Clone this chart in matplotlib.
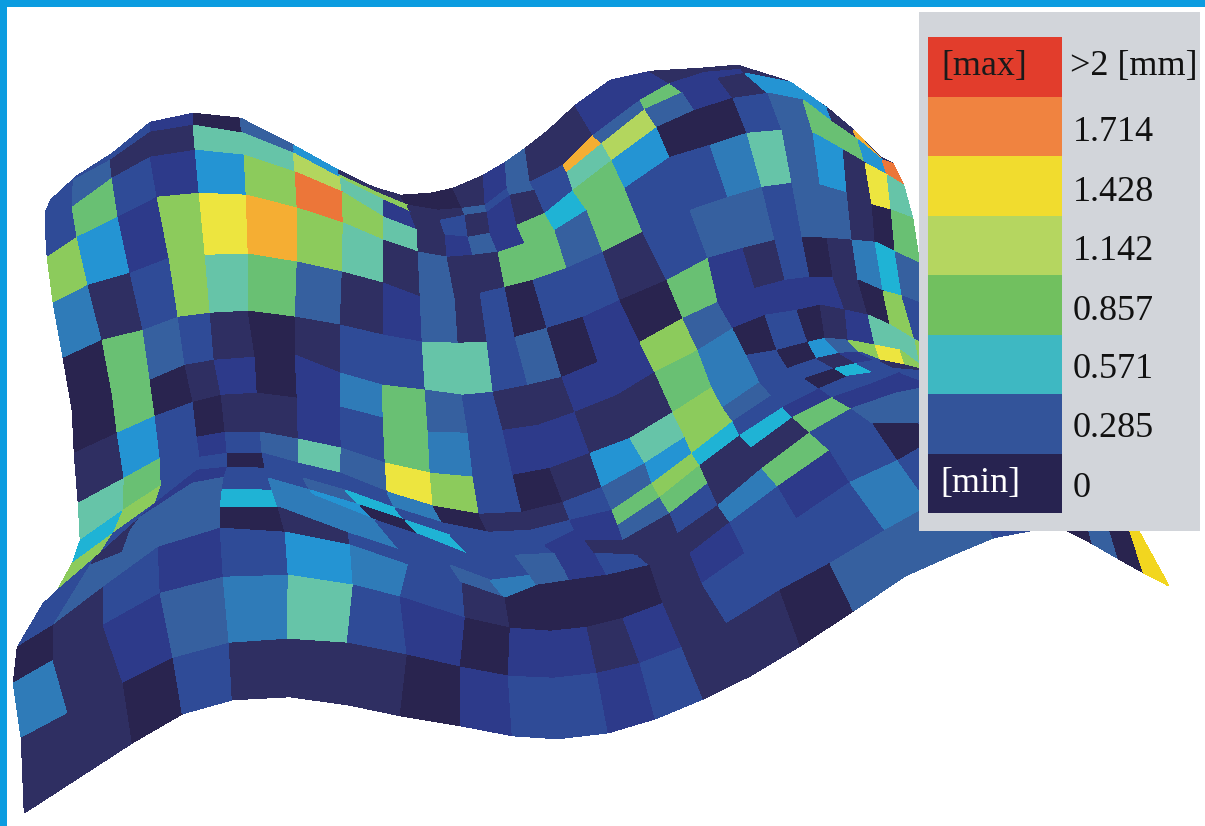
import matplotlib
matplotlib.use("Agg")
import matplotlib.pyplot as plt
from matplotlib.colors import ListedColormap, BoundaryNorm
from matplotlib.patches import Rectangle
import numpy as np

# Mesh nodes (x, y in image pixels), one list per mesh column,
# going from the front edge (first pair) over the fold up to the top edge (last pair)
col_00 = [(24,812),(21,738),(13,683),(17,647),(43,603),(50,597),(57,590),(72,563),(80,540),(78,503),(74,453),(72,410),(63,358),(53,303),(47,257),(45,228),(45,212),(46,210),(50,200)]
col_01 = [(78,777),(68,713),(53,660),(53,625),(90,565),(95,557),(100,553),(113,533),(123,510),(124,478),(117,433),(112,393),(102,340),(88,285),(77,237),(72,207),(73,180),(74,179),(76,176)]
col_02 = [(132,742),(123,683),(103,625),(103,587),(122,552),(130,530),(140,517),(155,503),(161,485),(160,458),(155,416),(150,380),(143,330),(130,273),(118,217),(112,178),(110,160),(110,157),(112,153)]
col_03 = [(182,713),(173,658),(160,593),(158,547),(172,512),(183,497),(192,483),(197,470),(200,457),(197,437),(193,402),(185,365),(178,317),(169,258),(157,197),(150,157),(150,132),(150,127),(150,122)]
col_04 = [(232,699),(229,643),(223,577),(220,528),(220,507),(222,489),(224,477),(227,467),(227,453),(225,432),(221,395),(214,360),(210,313),(205,255),(199,193),(195,150),(193,125),(193,120),(193,113)]
col_05 = [(289,696),(287,639),(288,575),(285,532),(278,507),(272,490),(268,478),(265,468),(262,453),(260,432),(257,393),(255,357),(248,311),(248,254),(246,195),(244,155),(243,133),(241,128),(240,118)]
col_06 = [(347,704),(347,643),(353,585),(350,545),(348,533),(318,497),(310,490),(303,478),(298,463),(298,439),(297,398),(295,355),(295,317),(297,262),(297,208),(295,172),(293,153),(293,150),(293,145)]
col_07 = [(400,715),(407,655),(400,597),(408,565),(400,550),(375,520),(360,505),(345,490),(340,473),(341,448),(340,407),(340,373),(340,325),(342,272),(343,223),(342,192),(340,178),(339,175),(338,170)]
col_08 = [(460,725),(460,667),(465,618),(462,583),(450,565),(420,535),(405,520),(395,508),(387,492),(385,463),(383,418),(382,385),(383,335),(383,283),(383,240),(383,217),(383,200),(378,193),(373,187)]
col_09 = [(512,735),(508,676),(510,628),(505,598),(490,580),(470,555),(450,535),(443,523),(433,506),(430,473),(428,432),(425,390),(422,342),(420,297),(418,252),(417,230),(410,212),(407,205),(400,195)]
col_10 = [(557,738),(553,678),(550,631),(537,585),(530,575),(515,555),(500,545),(488,532),(479,514),(473,477),(468,433),(462,395),(458,343),(455,298),(447,257),(445,235),(440,220),(437,210),(430,193)]
col_11 = [(608,732),(597,673),(587,627),(570,580),(565,570),(555,553),(545,545),(530,530),(522,512),(513,475),(503,430),(493,392),(487,342),(480,293),(473,255),(468,237),(465,215),(462,208),(453,188)]
col_12 = [(655,718),(640,663),(623,618),(607,575),(595,553),(585,540),(575,530),(570,520),(563,502),(550,468),(538,425),(528,385),(515,337),(505,287),(498,252),(490,233),(487,212),(485,205),(483,175)]
col_13 = [(703,698),(682,647),(663,603),(650,565),(638,555),(623,540),(618,525),(612,510),(602,487),(590,453),(575,412),(562,377),(547,328),(533,280),(525,243),(517,225),(510,195),(507,188),(505,162)]
col_14 = [(750,675),(727,623),(702,583),(690,553),(678,533),(670,513),(660,497),(652,483),(645,463),(630,438),(617,395),(598,362),(583,317),(567,268),(555,230),(545,213),(535,190),(530,182),(525,148)]
col_15 = [(800,645),(780,590),(745,553),(730,522),(718,505),(708,483),(700,465),(692,453),(685,437),(673,412),(655,372),(640,342),(620,300),(603,252),(587,210),(573,190),(567,172),(563,165),(548,130)]
col_16 = [(853,610),(830,563),(797,518),(778,486),(762,468),(752,447),(740,435),(733,421),(723,407),(712,387),(698,350),(683,318),(667,280),(643,232),(625,188),(612,160),(602,143),(593,135),(575,105)]
col_17 = [(905,575),(885,530),(850,482),(830,450),(810,432),(793,417),(783,407),(772,395),(760,382),(747,355),(733,328),(718,302),(708,258),(690,210),(670,157),(657,127),(645,109),(640,100),(610,80)]
col_18 = [(950,555),(930,505),(898,460),(873,423),(852,408),(833,397),(820,388),(805,378),(788,368),(777,350),(765,315),(755,288),(743,248),(728,197),(710,145),(695,110),(683,92),(670,83),(650,71)]
col_19 = [(993,537),(975,490),(950,430),(918,423),(895,393),(873,383),(848,376),(835,368),(817,358),(808,342),(797,310),(785,280),(775,240),(762,187),(747,133),(733,98),(718,78),(705,72),(700,68)]
col_20 = [(1030,530),(1015,485),(990,420),(950,400),(935,385),(900,372),(875,372),(857,363),(840,353),(825,338),(820,305),(810,277),(802,237),(792,183),(782,130),(768,93),(745,73),(741,69),(737,65)]
col_21 = [(1067,530),(1050,490),(1030,430),(990,390),(960,380),(930,372),(895,370),(875,360),(860,352),(848,340),(845,310),(833,277),(827,238),(820,185),(813,133),(803,100),(790,82),(787,81),(785,80)]
col_22 = [(1092,543),(1080,500),(1060,430),(1020,385),(990,375),(950,372),(910,372),(890,368),(880,360),(875,345),(868,315),(858,280),(852,240),(847,193),(843,150),(833,123),(827,108),(826,107),(825,107)]
col_23 = [(1118,558),(1105,515),(1090,440),(1050,400),(1010,380),(980,375),(930,372),(915,370),(905,365),(900,350),(890,325),(883,291),(875,242),(872,205),(865,163),(858,140),(853,130),(852,129),(851,128)]
col_24 = [(1143,572),(1128,525),(1110,470),(1080,420),(1040,390),(1000,380),(950,375),(935,372),(925,370),(920,365),(915,340),(902,296),(895,252),(891,210),(887,175),(882,160),(880,158),(880,157),(879,157)]
col_25 = [(1168,585),(1135,525),(1115,475),(1090,430),(1050,395),(1010,380),(970,375),(950,373),(940,372),(935,372),(930,345),(925,305),(919,263),(912,218),(903,185),(892,163),(891,162),(890,162),(890,162)]

# One letter per cell, front row first. Letters index shade_codes below
cell_rows = [
    "nndBnnndiBBiBnndsssBBdsdY",
    "lnislmBidiininBBBlBBBBBdY",
    "dnBiBclBnddddniBiBdBBBBBB",
    "BsssdnBBslsiBnnlgBssBBBBB",
    "BnsstllBBBsinnBnngiiBBBBB",
    "BnssBlcdtBBiisgntiBBBBBBB",
    "GBiiBBstBBBBigGtBBdtBBBBB",
    "tGBBdBBBldnnBscGsBBniBnnn",
    "mgBiBsmsyGBdncmGlBdcsGyGn",
    "ncBdnniBglBiinngldBdnimmG",
    "dgdnidilgsBnniiGsiiiindGB",
    "dgsBndnBBmmBsdidginBdnlts",
    "lnBGmgsnisnBdBBnBssBssndg",
    "GciGyaGmnsnnggsgBBlmscnym",
    "BgBicGoGmnisigtgcddBsggco",
    "BsnnmmLminBninBmLsinccnan",
    "BBBidscGGnnsBsBasgiinnnnn",
    "BBBidscnnddnisnniinnnniii",
]
shade_codes = "dniBslctmgGLyYao"
shade_colors = ["#29244f", "#2f2f62", "#2d3a8a", "#2f4b97", "#36609f", "#2f7bb8", "#2494d3", "#1fb3d5",
                "#66c4a8", "#69c073", "#8ccb5c", "#b3d65e", "#ede53f", "#f2d61f", "#f5ae33", "#ec7639"]

# Legend
legend_left = ["[max]", "", "", "", "", "", "", "[min]"]
legend_right = [">2 [mm]", "1.714", "1.428", "1.142", "0.857", "0.571", "0.285", "0"]
legend_colors = ["#e23d2c", "#f08340", "#f1dc2e", "#b5d660", "#71c05f", "#3eb8c2", "#33549a", "#272350"]
right_baselines = [75, 141, 201, 260, 320, 378, 437, 497]

columns = [col_00, col_01, col_02, col_03, col_04, col_05, col_06, col_07, col_08, col_09, col_10, col_11, col_12,
           col_13, col_14, col_15, col_16, col_17, col_18, col_19, col_20, col_21, col_22, col_23, col_24, col_25]
nodes = np.array(columns, dtype=float).transpose(1, 0, 2)
cells = np.array([[shade_codes.index(ch) for ch in row] for row in cell_rows])

fig = plt.figure(figsize=(12.05, 8.26), dpi=100)
ax = fig.add_axes([0, 0, 1, 1])
ax.set_xlim(0, 1205)
ax.set_ylim(826, 0)
ax.axis("off")

# back rows first so the front ridge covers the valley behind it
cmap = ListedColormap(shade_colors)
norm = BoundaryNorm(np.arange(len(shade_colors) + 1) - 0.5, len(shade_colors))
ax.pcolormesh(nodes[::-1, :, 0], nodes[::-1, :, 1], cells[::-1], cmap=cmap, norm=norm,
              shading="flat", edgecolors="face", linewidth=0.4, zorder=1)

# blue frame on the left and top
ax.add_patch(Rectangle((0, 0), 7, 826, color="#0b9ce0", lw=0, zorder=5))
ax.add_patch(Rectangle((0, 0), 1205, 7, color="#0b9ce0", lw=0, zorder=5))

# legend box
ax.add_patch(Rectangle((919, 12), 281, 519, color="#d2d5da", lw=0, zorder=6))
swatch_h = (513 - 37) / len(legend_colors)
for i, color in enumerate(legend_colors):
    ax.add_patch(Rectangle((928, 37 + i * swatch_h), 134, swatch_h, color=color, lw=0, zorder=7))
    ax.text(1070 if i == 0 else 1073, right_baselines[i], legend_right[i], ha="left", va="baseline",
            family="Liberation Serif", fontsize=26, color="#111111", zorder=8)

ax.text(984, 75, legend_left[0], ha="center", va="baseline", family="Liberation Serif",
        fontsize=26, color="#1a1a1a", zorder=8)
ax.text(980, 492, legend_left[7], ha="center", va="baseline", family="Liberation Serif",
        fontsize=26, color="white", zorder=8)

fig.savefig("out.png", dpi=100)
